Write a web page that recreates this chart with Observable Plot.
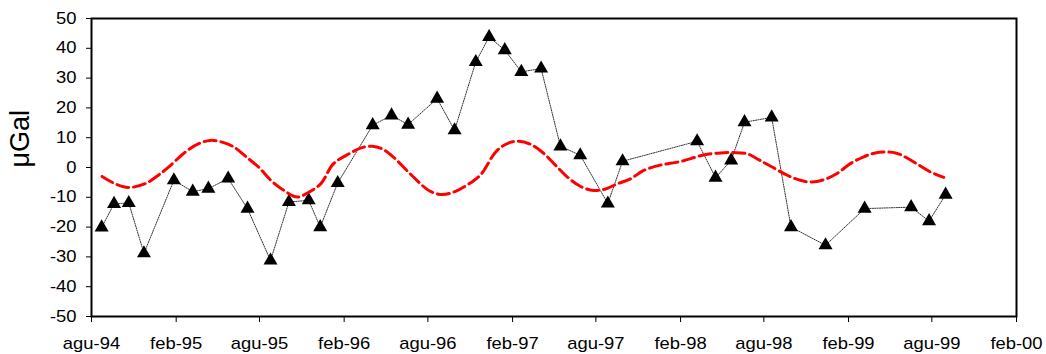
<!DOCTYPE html>
<html>
<head>
<meta charset="utf-8">
<script src="https://cdn.jsdelivr.net/npm/d3@7"></script>
<script src="https://cdn.jsdelivr.net/npm/@observablehq/plot@0.6"></script>
<style>
  html, body { margin: 0; padding: 0; background: #fff; }
</style>
</head>
<body>
<div id="chart"></div>
<script>
// Measured gravity variations (black triangles)
const obsDates = [
  "1994-08-23","1994-09-19","1994-10-21","1994-11-23","1995-01-27","1995-03-09","1995-04-12","1995-05-25",
  "1995-07-06","1995-08-25","1995-10-04","1995-11-16","1995-12-11","1996-01-18","1996-04-03","1996-05-14",
  "1996-06-19","1996-08-21","1996-09-28","1996-11-13","1996-12-12","1997-01-15","1997-02-20","1997-04-04",
  "1997-05-16","1997-06-28","1997-08-27","1997-09-28","1998-03-09","1998-04-18","1998-05-22","1998-06-20",
  "1998-08-18","1998-09-29","1998-12-13","1999-03-08","1999-06-17","1999-07-26","1999-08-31"
];
const obsValues = [
  -20.1, -12.2, -11.9, -28.8, -4.3, -8.1, -7.1, -3.7,
  -13.8, -31.2, -11.6, -11.0, -20.0, -5.2, 14.2, 17.5,
  14.4, 23.1, 12.5, 35.4, 43.8, 39.4, 32.1, 33.2,
  7.1, 4.1, -12.1, 2.1, 8.8, -3.4, 2.4, 15.2,
  16.8, -20.0, -26.1, -13.8, -13.3, -18.0, -9.1
];

// Modelled effect (red dashed curve)
const modelDates = [
  "1994-08-24","1994-09-22","1994-10-21","1994-11-26","1994-12-25","1995-01-16","1995-02-21","1995-03-22",
  "1995-04-16","1995-05-12","1995-06-06","1995-07-03","1995-07-31","1995-08-27","1995-09-23","1995-10-22",
  "1995-11-16","1995-12-12","1996-01-09","1996-02-14","1996-03-09","1996-04-02","1996-04-24","1996-05-18",
  "1996-06-13","1996-07-08","1996-08-04","1996-09-01","1996-09-30","1996-10-26","1996-11-23","1996-12-28",
  "1997-01-23","1997-02-14","1997-03-12","1997-04-10","1997-05-05","1997-05-31","1997-06-28","1997-07-27",
  "1997-08-22","1997-09-16","1997-10-15","1997-11-13","1997-12-19","1998-02-01","1998-03-23","1998-04-29",
  "1998-05-27","1998-06-26","1998-07-20","1998-08-15","1998-09-21","1998-10-19","1998-11-14","1998-12-11",
  "1999-01-07","1999-02-05","1999-03-06","1999-03-29","1999-04-22","1999-05-16","1999-06-08","1999-07-03",
  "1999-07-29","1999-08-27"
];
const modelValues = [
  -3.0, -5.5, -6.7, -5.4, -2.5, 0.2, 5.2, 8.0,
  9.1, 8.5, 6.9, 3.6, 0.0, -4.5, -7.7, -9.9,
  -8.3, -5.5, 1.3, 4.8, 6.6, 7.1, 6.2, 3.5,
  -0.5, -4.3, -7.8, -9.1, -8.0, -5.8, -2.5, 5.5,
  8.2, 8.8, 7.8, 4.7, 0.8, -3.2, -6.3, -7.7,
  -7.2, -5.5, -3.8, -1.0, 0.8, 2.0, 4.2, 4.9,
  5.0, 4.6, 2.7, 0.5, -2.6, -4.3, -4.9, -4.0,
  -2.0, 1.3, 3.6, 4.8, 5.2, 4.8, 3.2, 0.9,
  -1.5, -3.3
];

// Axis ticks
const xTickDates = ["1994-08-01","1995-02-01","1995-08-01","1996-02-01","1996-08-01","1997-02-01",
                    "1997-08-01","1998-02-01","1998-08-01","1999-02-01","1999-08-01","2000-02-01"];
const xTickLabels = ["agu-94","feb-95","agu-95","feb-96","agu-96","feb-97",
                     "agu-97","feb-98","agu-98","feb-99","agu-99","feb-00"];
const yTicks = [-50, -40, -30, -20, -10, 0, 10, 20, 30, 40, 50];
const yLabel = "μGal";

const parse = s => new Date(s + "T00:00:00Z");
const obs = obsDates.map((d, i) => ({date: parse(d), value: obsValues[i]}));
const model = modelDates.map((d, i) => ({date: parse(d), value: modelValues[i]}));
const xTicks = xTickDates.map(parse);
const labelFor = new Map(xTicks.map((d, i) => [+d, xTickLabels[i]]));

const chart = Plot.plot({
  width: 1046,
  height: 354,
  marginLeft: 91,
  marginRight: 30,
  marginTop: 18,
  marginBottom: 38,
  style: {fontFamily: "'Liberation Sans', Arial, sans-serif", fontSize: "16px", color: "#000", background: "#fff", overflow: "visible"},
  x: {type: "utc", domain: [xTicks[0], xTicks[xTicks.length - 1]]},
  y: {domain: [-50, 50]},
  marks: [
    Plot.axisX({ticks: xTicks, tickFormat: d => labelFor.get(+d), tickSize: 6, tickPadding: 15, label: null, stroke: "#000"}),
    Plot.axisY({ticks: yTicks, tickFormat: d => String(d), tickSize: 5, tickPadding: 10, label: null, stroke: "#000"}),
    Plot.line(obs, {x: "date", y: "value", stroke: "#333", strokeWidth: 1, strokeDasharray: "1.2,1.2"}),
    Plot.dot(obs, {x: "date", y: "value", symbol: "triangle", fill: "#000", stroke: "none", r: 5.2}),
    Plot.line(model, {x: "date", y: "value", stroke: "#ff0000", strokeWidth: 3, strokeDasharray: "12,5", curve: "catmull-rom"}),
    Plot.frame({stroke: "#000", strokeWidth: 2}),
    Plot.text([yLabel], {frameAnchor: "left", dx: -71, rotate: -90, fontSize: 27, fill: "#000"})
  ]
});
// Widen tick labels horizontally to match the reference's wide lettering
chart.querySelectorAll('g[aria-label="x-axis tick label"] text, g[aria-label="y-axis tick label"] text').forEach(t => {
  const tr = t.getAttribute("transform") || "";
  t.setAttribute("transform", tr + " scale(1.15,1)");
});
document.getElementById("chart").appendChild(chart);
</script>
</body>
</html>
